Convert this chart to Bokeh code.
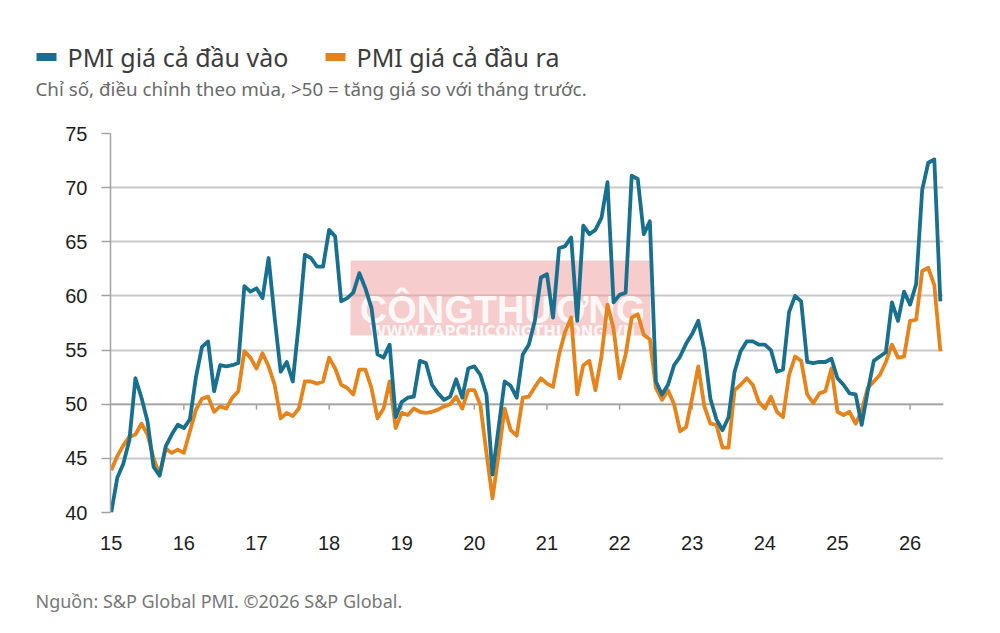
from bokeh.plotting import figure
from bokeh.layouts import column
from bokeh.models import Range1d, FixedTicker, Label, BoxAnnotation, Span
from bokeh.embed import file_html
from bokeh.resources import INLINE
from bokeh.core.properties import value

# Monthly S&P Global PMI price indices, Jan 2015 - Jun 2026
input_pmi = [
    40.0, 43.2, 44.5, 46.7, 52.4, 50.6, 48.4, 44.2, 43.4, 46.1, 47.2, 48.1,
    47.8, 48.6, 52.5, 55.3, 55.8, 51.2, 53.6, 53.5, 53.6, 53.8, 60.9, 60.4,
    60.7, 59.8, 63.5, 58.0, 53.0, 53.9, 52.1, 57.5, 63.8, 63.5, 62.7, 62.7,
    66.1, 65.5, 59.5, 59.8, 60.3, 62.1, 60.7, 58.9, 54.6, 54.3, 55.5, 48.8,
    50.2, 50.6, 50.7, 54.0, 53.8, 51.8, 51.0, 50.4, 50.7, 52.3, 50.6, 53.3,
    53.5, 52.7, 50.9, 43.5, 47.8, 52.1, 51.7, 50.6, 54.6, 55.5, 57.7, 61.7,
    62.0, 58.0, 64.4, 64.6, 65.4, 57.7, 66.5, 65.7, 66.1, 67.2, 70.5, 59.4,
    60.1, 60.3, 71.1, 70.8, 65.7, 66.9, 52.1, 50.9, 51.8, 53.6, 54.4, 55.6,
    56.5, 57.7, 55.0, 50.5, 48.6, 47.6, 48.8, 53.0, 54.9, 55.8, 55.8, 55.5,
    55.5, 55.0, 53.0, 53.2, 58.5, 60.0, 59.5, 53.9, 53.8, 53.9, 53.9, 54.2,
    52.4, 51.8, 51.0, 50.9, 48.1, 51.2, 54.0, 54.4, 54.8, 59.4, 57.7, 60.4,
    59.2, 61.1, 69.8, 72.3, 72.6, 59.5,
]
output_pmi = [
    43.9, 45.2, 46.2, 47.0, 47.2, 48.2, 47.2, 45.0, 43.5, 45.9, 45.5, 45.8,
    45.5, 47.5, 49.5, 50.5, 50.7, 49.3, 49.8, 49.6, 50.6, 51.2, 54.9, 54.3,
    53.3, 54.7, 53.5, 51.8, 48.7, 49.2, 48.9, 49.6, 52.1, 52.1, 51.9, 52.1,
    54.3, 53.3, 51.8, 51.5, 50.9, 53.2, 53.2, 51.5, 48.7, 49.6, 52.1, 47.8,
    49.2, 49.0, 49.6, 49.3, 49.2, 49.3, 49.5, 49.8, 50.0, 50.7, 49.6, 51.3,
    51.3, 49.9, 45.5, 41.3, 45.3, 49.6, 47.6, 47.1, 50.6, 50.7, 51.6, 52.4,
    51.9, 51.6, 54.6, 56.7, 58.0, 50.9, 53.6, 54.0, 51.3, 54.4, 59.2, 57.0,
    52.4, 54.6, 58.0, 58.3, 56.4, 56.0, 51.5, 50.4, 51.3, 50.0, 47.5, 47.9,
    50.6, 53.5, 49.8, 48.2, 48.1, 46.0, 46.0, 51.3, 51.8, 52.4, 51.8, 50.2,
    49.6, 50.7, 49.3, 48.8, 52.7, 54.4, 54.0, 50.9, 50.1, 51.0, 51.2, 53.3,
    49.3, 49.0, 49.3, 48.2, 49.4, 51.5, 52.1, 52.7, 53.9, 55.5, 54.3, 54.4,
    57.7, 57.8, 62.3, 62.6, 61.0, 54.9,
]
series_names = ["PMI giá cả đầu vào", "PMI giá cả đầu ra"]
first_year = 15
year_ticks = list(range(15, 27))
value_ticks = [40, 45, 50, 55, 60, 65, 70, 75]
neutral_level = 50

subtitle = "Chỉ số, điều chỉnh theo mùa, >50 = tăng giá so với tháng trước."
source_note = "Nguồn: S&P Global PMI. ©2026 S&P Global."

# month positions expressed in years (15 = Jan 2015)
months = [first_year + i / 12 for i in range(len(input_pmi))]

BLUE = "#18708e"
ORANGE = "#e5841c"
GRID = "#c8c8c8"
AXIS = "#a3a3a3"
TXT_FONT = "Noto Sans"
NUM_FONT = "Liberation Sans"
W = 1000


def blank_panel(height, top, bottom):
    """A figure without axes whose coordinates are page pixels (y top-down)."""
    f = figure(width=W, height=height, output_backend="svg", toolbar_location=None,
               x_range=Range1d(0, W), y_range=Range1d(bottom, top),
               x_axis_type=None, y_axis_type=None, min_border=0,
               frame_align=False)
    f.outline_line_color = None
    f.background_fill_color = "white"
    f.border_fill_color = "white"
    f.grid.visible = False
    return f


# ---- header: legend and subtitle -------------------------------------------
head = blank_panel(120, 0, 120)
head.quad(left=[36, 325], right=[56, 345], top=[52.5, 52.5], bottom=[60.5, 60.5],
          fill_color=[BLUE, ORANGE], line_color=None)
head.text(x=[67, 356], y=[56, 56], text=series_names,
          text_font=value(TXT_FONT), text_font_size="25px",
          text_baseline="alphabetic", text_color="#3c3c3c")
head.text(x=[35], y=[88], text=[subtitle],
          text_font=value(TXT_FONT), text_font_size="18.8px",
          text_baseline="alphabetic", text_color="#6a6a6a")

# ---- main chart ---------------------------------------------------------------
p = figure(width=W, height=450, output_backend="svg", toolbar_location=None,
           x_range=Range1d(14.99, 26.46), y_range=Range1d(40, 75),
           min_border_left=110, min_border_right=57,
           min_border_top=13, min_border_bottom=58, frame_align=False)
p.outline_line_color = None
p.background_fill_color = "white"
p.border_fill_color = "white"

p.xaxis.ticker = FixedTicker(ticks=year_ticks)
p.xaxis.axis_line_color = None
p.xaxis.major_tick_line_color = None
p.xaxis.minor_tick_line_color = None
p.xaxis.major_label_standoff = 17
p.xaxis.major_label_text_font = NUM_FONT
p.xaxis.major_label_text_font_size = "20px"
p.xaxis.major_label_text_color = "#1e1e1e"

p.yaxis.ticker = FixedTicker(ticks=value_ticks)
p.yaxis.axis_line_color = AXIS
p.yaxis.axis_line_width = 1.5
p.yaxis.major_tick_line_color = AXIS
p.yaxis.major_tick_line_width = 1.5
p.yaxis.major_tick_out = 9
p.yaxis.major_tick_in = 0
p.yaxis.minor_tick_line_color = None
p.yaxis.major_label_standoff = 14
p.yaxis.major_label_text_font = NUM_FONT
p.yaxis.major_label_text_font_size = "20px"
p.yaxis.major_label_text_color = "#1e1e1e"

p.xgrid.visible = False
p.ygrid.ticker = FixedTicker(ticks=value_ticks)
p.ygrid.grid_line_color = GRID
p.ygrid.grid_line_width = 2

# horizontal axis along the 50 level, with short year ticks
p.add_layout(Span(location=neutral_level, dimension="width",
                  line_color=AXIS, line_width=1.5, level="underlay"))
p.segment(x0=year_ticks[1:], y0=[neutral_level] * 11,
          x1=year_ticks[1:], y1=[neutral_level - 0.5] * 11,
          line_color=AXIS, line_width=1.5)

# publisher watermark
p.add_layout(BoxAnnotation(left=240, right=540, bottom=177, top=252,
                           left_units="screen", right_units="screen",
                           bottom_units="screen", top_units="screen",
                           fill_color="#ee9999", fill_alpha=0.5,
                           line_color=None, level="underlay"))
p.add_layout(Label(x=392, y=203, x_units="screen", y_units="screen",
                   text="CÔNGTHƯƠNG", text_align="center",
                   text_baseline="alphabetic",
                   text_font="Liberation Sans", text_font_style="bold",
                   text_font_size="38px", text_color="white",
                   text_alpha=0.85, level="underlay"))
p.add_layout(Label(x=392, y=181, x_units="screen", y_units="screen",
                   text="WWW.TAPCHICONGTHUONG.VN", text_align="center",
                   text_baseline="alphabetic",
                   text_font="DejaVu Sans", text_font_style="bold",
                   text_font_size="15px", text_color="white",
                   text_alpha=0.85, level="underlay"))

p.line(months, output_pmi, line_color=ORANGE, line_width=3.8, line_join="round")
p.line(months, input_pmi, line_color=BLUE, line_width=3.8, line_join="round")

# ---- footer: source note --------------------------------------------------------
foot = blank_panel(63, 570, 633)
foot.text(x=[35], y=[600], text=[source_note],
          text_font=value(TXT_FONT), text_font_size="18px",
          text_baseline="alphabetic", text_color="#777777")

page = column(head, p, foot, spacing=0)
open("out.html", "w").write(file_html(page, INLINE))
